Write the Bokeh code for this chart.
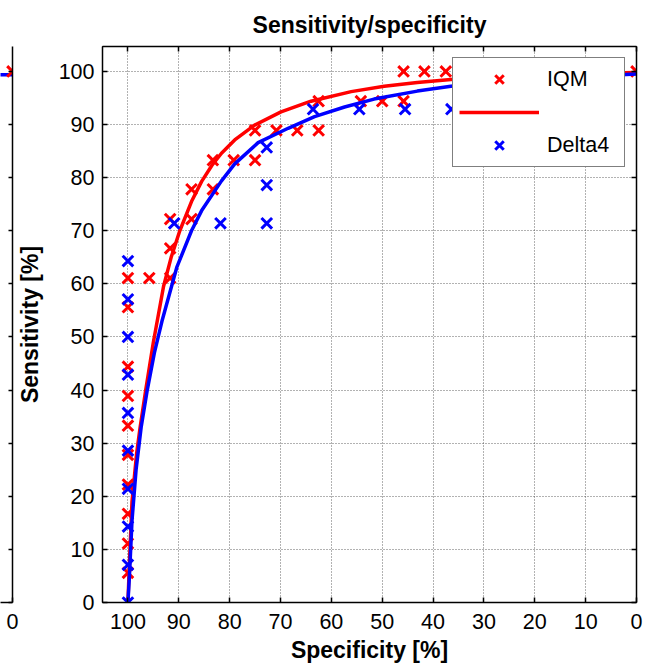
from bokeh.plotting import figure
from bokeh.models import Range1d, FixedTicker, LinearAxis, Legend, LegendItem
from bokeh.layouts import row
from bokeh.embed import file_html
from bokeh.resources import INLINE

# ---------------- data ----------------
tick_values = [0, 10, 20, 30, 40, 50, 60, 70, 80, 90, 100]

# IQM operating points (specificity %, sensitivity %)
iqm_spec = [100, 100, 100, 100, 100, 100, 100, 100, 100, 100,
            95.8, 91.7, 91.7, 91.7, 87.5, 87.5, 83.3, 83.3, 79.2,
            75.0, 75.0, 70.8, 66.7, 62.5, 62.5, 54.2, 50.0, 45.8,
            45.8, 41.7, 37.5, 0]
iqm_sens = [5.6, 11.1, 16.7, 22.2, 27.8, 33.3, 38.9, 44.4, 55.6, 61.1,
            61.1, 61.1, 66.7, 72.2, 72.2, 77.8, 77.8, 83.3, 83.3,
            83.3, 88.9, 88.9, 88.9, 88.9, 94.4, 94.4, 94.4, 94.4,
            100, 100, 100, 100]

# Delta4 operating points
delta_spec = [100, 100, 100, 100, 100, 100, 100, 100, 100, 100,
              90.9, 81.8, 72.7, 72.7, 72.7, 63.6, 54.5, 45.5, 36.4]
delta_sens = [0, 7.1, 14.3, 21.4, 28.6, 35.7, 42.9, 50.0, 57.1, 64.3,
              71.4, 71.4, 71.4, 78.6, 85.7, 92.9, 92.9, 92.9, 92.9]

# fitted ROC curves
iqm_fit_spec = [100, 99.6, 99.2, 98.3, 97.6, 96.5, 95.0, 93.0, 91.5, 89.8,
                87.5, 85.5, 83.5, 81.6, 79.0, 75.1, 69.9, 64.0, 56.1, 49.6,
                43.1, 36.5, 25, 15, 5, 0]
iqm_fit_sens = [0, 10, 19.0, 28.0, 33.0, 40.0, 49.0, 59.5, 65.0, 70.0,
                75.5, 79.3, 82.3, 84.6, 87.1, 89.9, 92.4, 94.4, 96.2, 97.2,
                97.9, 98.5, 99.1, 99.45, 99.7, 99.8]

delta_fit_spec = [100, 99.7, 99.2, 98.4, 97.4, 96.2, 94.8, 93.3, 90.4, 87.5,
                  85.5, 81.6, 79.0, 74.4, 68.5, 63.3, 57.4, 51.6, 43.1, 36.5,
                  25, 15, 5, 0]
delta_fit_sens = [0, 5, 15.4, 25, 33, 40, 47, 53.0, 63.1, 70.0,
                  73.8, 79.4, 82.6, 86.6, 89.3, 91.5, 93.3, 94.8, 96.3, 97.2,
                  98.3, 98.9, 99.3, 99.5]

# neighbouring panel (only its right edge is visible)
left_iqm_spec = [0]
left_iqm_sens = [100]
left_delta_fit_spec = [3, 0]
left_delta_fit_sens = [99.4, 99.4]

FONT = "Liberation Sans"
RED = "#ff0000"
BLUE = "#0000ff"
TICK_FS = "21.5px"
LABEL_FS = "23px"
MARKER_SIZE = 15
MARKER_LW = 3


def style_axis(ax, show_labels=True):
    ax.ticker = FixedTicker(ticks=tick_values)
    ax.major_tick_in = 5
    ax.major_tick_out = 0
    ax.minor_tick_line_color = None
    ax.axis_line_color = "black"
    ax.axis_line_width = 1.5
    ax.major_tick_line_color = "black"
    ax.major_tick_line_width = 1.5
    ax.major_label_text_font = FONT
    if show_labels:
        ax.major_label_text_font_size = TICK_FS
        ax.major_label_text_color = "black"
    else:
        ax.major_label_text_font_size = "1px"
        ax.major_label_text_color = None
        ax.major_label_standoff = 0


# ---------------- main panel ----------------
p = figure(width=634, height=665, x_range=Range1d(105, 0), y_range=Range1d(0, 104.7),
           output_backend="svg", toolbar_location=None,
           min_border_left=91, min_border_right=9, min_border_top=46, min_border_bottom=63)
p.background_fill_color = "white"
p.border_fill_color = None
p.outline_line_color = "black"

p.title.text = "Sensitivity/specificity"
p.title.align = "center"
p.title.text_font = FONT
p.title.text_font_size = LABEL_FS
p.title.text_font_style = "bold"
p.title.text_color = "black"
p.title.standoff = 17

for ax in p.xaxis:
    style_axis(ax)
    ax.major_label_standoff = 11
    ax.axis_label = "Specificity [%]"
for ax in p.yaxis:
    style_axis(ax)
    ax.major_label_standoff = 8
    ax.axis_label = "Sensitivity [%]"
for ax in list(p.xaxis) + list(p.yaxis):
    ax.axis_label_text_font = FONT
    ax.axis_label_text_font_size = LABEL_FS
    ax.axis_label_text_font_style = "bold"
    ax.axis_label_text_color = "black"
p.xaxis.axis_label_standoff = 5
p.yaxis.axis_label_standoff = 13

top_ax = LinearAxis()
style_axis(top_ax, show_labels=False)
p.add_layout(top_ax, "above")
right_ax = LinearAxis()
style_axis(right_ax, show_labels=False)
p.add_layout(right_ax, "right")

for g in (p.xgrid, p.ygrid):
    g.ticker = FixedTicker(ticks=tick_values)
    g.grid_line_color = "#404040"
    g.grid_line_alpha = 0.8
    g.grid_line_dash = "1 2"
    g.grid_line_width = 1

r_iqm = p.scatter(iqm_spec, iqm_sens, marker="x", size=MARKER_SIZE, line_color=RED, line_width=MARKER_LW)
r_iqm_fit = p.line(iqm_fit_spec, iqm_fit_sens, line_color=RED, line_width=3.5)
r_delta = p.scatter(delta_spec, delta_sens, marker="x", size=MARKER_SIZE, line_color=BLUE, line_width=MARKER_LW)
r_delta_fit = p.line(delta_fit_spec, delta_fit_sens, line_color=BLUE, line_width=3.5)

legend = Legend(items=[LegendItem(label="IQM", renderers=[r_iqm]),
                       LegendItem(label=" ", renderers=[r_iqm_fit]),
                       LegendItem(label="Delta4", renderers=[r_delta])],
                location="top_right")
legend.margin = 11
legend.padding = 6
legend.spacing = 3
legend.glyph_width = 80
legend.glyph_height = 30
legend.label_standoff = 8
legend.label_width = 71
legend.label_text_font = FONT
legend.label_text_font_size = TICK_FS
legend.label_text_color = "black"
legend.border_line_color = "black"
legend.border_line_width = 1
legend.background_fill_color = "white"
legend.background_fill_alpha = 1
p.add_layout(legend)

# ---------------- neighbouring panel (right edge only) ----------------
q = figure(width=19, height=665, x_range=Range1d(2.35, 0), y_range=Range1d(0, 104.7),
           output_backend="svg", toolbar_location=None, y_axis_location="right",
           min_border_left=0, min_border_right=7, min_border_top=46, min_border_bottom=63)
q.outline_line_color = None
q.border_fill_color = None
q.xgrid.visible = False
q.ygrid.visible = False
for ax in q.xaxis:
    style_axis(ax)
    ax.major_label_standoff = 11
for ax in q.yaxis:
    style_axis(ax, show_labels=False)
    ax.major_tick_in = 4
q.line(left_delta_fit_spec, left_delta_fit_sens, line_color=BLUE, line_width=3.5)
q.scatter(left_iqm_spec, left_iqm_sens, marker="x", size=MARKER_SIZE, line_color=RED, line_width=MARKER_LW)
q.styles = {"margin-right": "-8px"}

layout = row(q, p)
open("out.html", "w").write(file_html(layout, INLINE))
